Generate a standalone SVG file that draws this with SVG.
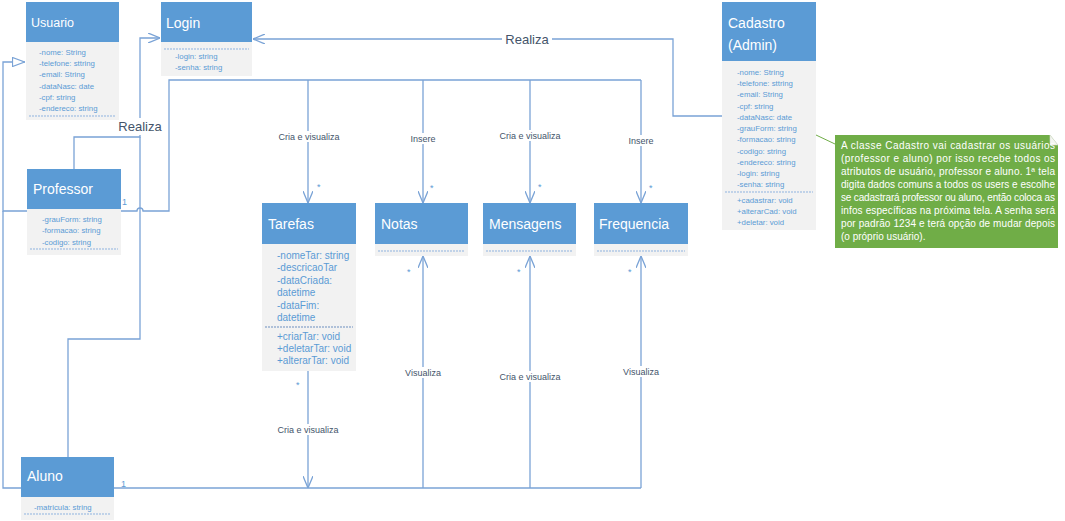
<svg xmlns="http://www.w3.org/2000/svg" width="1065" height="521" viewBox="0 0 1065 521">
<style>
.hdr{fill:#5b9bd5}
.body{fill:#f2f2f2}
.title{font-family:"Liberation Sans",Arial,sans-serif;font-size:14px;fill:#ffffff}
.attr{font-family:"Liberation Sans",Arial,sans-serif;font-size:7.8px;fill:#5b9bd5}
.attr10{font-family:"Liberation Sans",Arial,sans-serif;font-size:10px;fill:#5b9bd5}
.sep{stroke:#8fb3df;stroke-width:1;stroke-dasharray:2,1;fill:none}
.conn{fill:none;stroke:#7aa3d6;stroke-width:1.3}
.lbl{font-family:"Liberation Sans",Arial,sans-serif;font-size:9px;fill:#44546a;text-anchor:middle}
.big{font-size:13px}
.mult{font-family:"Liberation Sans",Arial,sans-serif;font-size:9px;fill:#5b9bd5}
.bg{fill:#ffffff}
.note{font-family:"Liberation Sans",Arial,sans-serif;font-size:10px;fill:#ffffff}
</style>
<defs>
<marker id="open" viewBox="0 0 12 10" refX="12" refY="5" markerWidth="12" markerHeight="10" markerUnits="userSpaceOnUse" orient="auto">
<path d="M0,0 L12,5 L0,10" fill="none" stroke="#7aa3d6" stroke-width="1.3"/>
</marker>
<marker id="tri" viewBox="0 0 13 10" refX="13" refY="5" markerWidth="13" markerHeight="10" markerUnits="userSpaceOnUse" orient="auto">
<path d="M0.5,0.5 L12.5,5 L0.5,9.5 Z" fill="#ffffff" stroke="#7aa3d6" stroke-width="1.2"/>
</marker>
</defs>

<g id="connectors">
<path class="conn" d="M723,116 H673 V39 H253" marker-end="url(#open)"/>
<path class="conn" d="M74,169 V137 H140 V38 H160" marker-end="url(#open)"/>
<path class="conn" d="M68,457 V339 H140 V137"/>
<path class="conn" d="M27,211 H3 V62 H25" marker-end="url(#tri)"/>
<path class="conn" d="M21,488 H3 V211"/>
<path class="conn" d="M120,211 H137 A3,3 0 0 1 143,211 H169 V80 H641"/>
<path class="conn" d="M308,80 V203" marker-end="url(#open)"/>
<path class="conn" d="M423,80 V203" marker-end="url(#open)"/>
<path class="conn" d="M530,80 V203" marker-end="url(#open)"/>
<path class="conn" d="M641,80 V203" marker-end="url(#open)"/>
<path class="conn" d="M114,488 H641"/>
<path class="conn" d="M308,371 V488" marker-end="url(#open)"/>
<path class="conn" d="M423,488 V256" marker-end="url(#open)"/>
<path class="conn" d="M530,488 V256" marker-end="url(#open)"/>
<path class="conn" d="M641,488 V256" marker-end="url(#open)"/>
<rect class="bg" x="502" y="31" width="50" height="16"/>
<text class="lbl big" x="527" y="44">Realiza</text>
<rect class="bg" x="116" y="118" width="48" height="17"/>
<text class="lbl big" x="140" y="131">Realiza</text>
<rect class="bg" x="277" y="131" width="64" height="11"/>
<text class="lbl" x="309" y="140">Cria e visualiza</text>
<rect class="bg" x="408" y="133" width="30" height="11"/>
<text class="lbl" x="423" y="142">Insere</text>
<rect class="bg" x="498" y="130" width="64" height="11"/>
<text class="lbl" x="530" y="139">Cria e visualiza</text>
<rect class="bg" x="626" y="135" width="30" height="11"/>
<text class="lbl" x="641" y="144">Insere</text>
<rect class="bg" x="276" y="424" width="64" height="11"/>
<text class="lbl" x="308" y="433">Cria e visualiza</text>
<rect class="bg" x="403" y="367" width="40" height="11"/>
<text class="lbl" x="423" y="376">Visualiza</text>
<rect class="bg" x="498" y="371" width="64" height="11"/>
<text class="lbl" x="530" y="380">Cria e visualiza</text>
<rect class="bg" x="621" y="366" width="40" height="11"/>
<text class="lbl" x="641" y="375">Visualiza</text>
<text class="mult" x="122" y="205">1</text>
<text class="mult" x="121" y="487">1</text>
<text class="mult" x="317" y="190">*</text>
<text class="mult" x="430" y="191">*</text>
<text class="mult" x="538" y="190">*</text>
<text class="mult" x="649" y="191">*</text>
<text class="mult" x="296" y="388">*</text>
<text class="mult" x="407" y="275">*</text>
<text class="mult" x="517" y="275">*</text>
<text class="mult" x="628" y="275">*</text>
</g>

<g id="usuario">
<rect class="hdr" x="26" y="2" width="93" height="40"/>
<rect class="body" x="26" y="42" width="93" height="78"/>
<text class="title" x="31" y="27" style="font-size:12.5px">Usuario</text>
<text class="attr" x="39" y="54.5">-nome: String</text>
<text class="attr" x="39" y="65.5">-telefone: sttring</text>
<text class="attr" x="39" y="76.5">-email: String</text>
<text class="attr" x="39" y="88.5">-dataNasc: date</text>
<text class="attr" x="39" y="99.5">-cpf: string</text>
<text class="attr" x="39" y="110.5">-endereco: string</text>
<line class="sep" x1="29" y1="116" x2="116" y2="116"/>
</g>

<g id="login">
<rect class="hdr" x="161" y="2" width="91" height="40"/>
<rect class="body" x="161" y="42" width="91" height="34"/>
<text class="title" x="166" y="27.5">Login</text>
<line class="sep" x1="164" y1="49" x2="249" y2="49"/>
<text class="attr" x="175" y="58.5">-login: string</text>
<text class="attr" x="175" y="69.5">-senha: string</text>
</g>

<g id="cadastro">
<rect class="hdr" x="722" y="2" width="94" height="59"/>
<rect class="body" x="722" y="61" width="94" height="169"/>
<text class="title" x="728" y="28">Cadastro</text>
<text class="title" x="728" y="50">(Admin)</text>
<text class="attr" x="737" y="74.5">-nome: String</text>
<text class="attr" x="737" y="85.5">-telefone: sttring</text>
<text class="attr" x="737" y="96.5">-email: String</text>
<text class="attr" x="737" y="108.5">-cpf: string</text>
<text class="attr" x="737" y="119.5">-dataNasc: date</text>
<text class="attr" x="737" y="130.5">-grauForm: string</text>
<text class="attr" x="737" y="141.5">-formacao: string</text>
<text class="attr" x="737" y="153.5">-codigo: string</text>
<text class="attr" x="737" y="164.5">-endereco: string</text>
<text class="attr" x="737" y="175.5">-login: string</text>
<text class="attr" x="737" y="186.5">-senha: string</text>
<line class="sep" x1="725" y1="192" x2="813" y2="192"/>
<text class="attr" x="737" y="202.5">+cadastrar: void</text>
<text class="attr" x="737" y="213.5">+alterarCad: void</text>
<text class="attr" x="737" y="224.5">+deletar: void</text>
</g>

<g id="professor">
<rect class="hdr" x="27" y="169" width="94" height="40"/>
<rect class="body" x="27" y="209" width="94" height="46"/>
<text class="title" x="33" y="194">Professor</text>
<text class="attr" x="42" y="221.5">-grauForm: string</text>
<text class="attr" x="42" y="232.5">-formacao: string</text>
<text class="attr" x="42" y="244.5">-codigo: string</text>
<line class="sep" x1="30" y1="249" x2="118" y2="249"/>
</g>

<g id="aluno">
<rect class="hdr" x="21" y="457" width="93" height="40"/>
<rect class="body" x="21" y="497" width="93" height="23"/>
<text class="title" x="27" y="481">Aluno</text>
<text class="attr" x="34" y="509.5">-matricula: string</text>
<line class="sep" x1="24" y1="514" x2="111" y2="514"/>
</g>

<g id="tarefas">
<rect class="hdr" x="262" y="203" width="94" height="41"/>
<rect class="body" x="262" y="244" width="94" height="127"/>
<text class="title" x="268" y="229">Tarefas</text>
<text class="attr10" x="277" y="259">-nomeTar: string</text>
<text class="attr10" x="277" y="271">-descricaoTar</text>
<text class="attr10" x="277" y="284">-dataCriada:</text>
<text class="attr10" x="277" y="296">datetime</text>
<text class="attr10" x="277" y="309">-dataFim:</text>
<text class="attr10" x="277" y="321">datetime</text>
<line class="sep" x1="265" y1="327" x2="353" y2="327" style="stroke:#6d8fbf"/>
<text class="attr10" x="277" y="340">+criarTar: void</text>
<text class="attr10" x="277" y="352">+deletarTar: void</text>
<text class="attr10" x="277" y="364">+alterarTar: void</text>
</g>

<g id="notas">
<rect class="hdr" x="375" y="203" width="93" height="41"/>
<rect class="body" x="375" y="244" width="93" height="12"/>
<text class="title" x="381" y="229">Notas</text>
<line class="sep" x1="378" y1="251" x2="465" y2="251"/>
</g>

<g id="mensagens">
<rect class="hdr" x="483" y="203" width="93" height="41"/>
<rect class="body" x="483" y="244" width="93" height="12"/>
<text class="title" x="489" y="229">Mensagens</text>
<line class="sep" x1="486" y1="251" x2="573" y2="251"/>
</g>

<g id="frequencia">
<rect class="hdr" x="594" y="203" width="94" height="41"/>
<rect class="body" x="594" y="244" width="94" height="12"/>
<text class="title" x="599" y="229">Frequencia</text>
<line class="sep" x1="597" y1="251" x2="685" y2="251"/>
</g>

<g id="note">
<line x1="816" y1="135" x2="835" y2="144" stroke="#70ad47" stroke-width="1"/>
<polygon points="835,135 1050,135 1058,145 1058,248 835,248" fill="#70ad47"/>
<polygon points="1050,135 1050,145 1058,145" fill="#f4f6f2" stroke="#d6dccf" stroke-width="0.6"/>
<text class="note" x="841" y="149" textLength="214" lengthAdjust="spacing">A classe Cadastro vai cadastrar os usuários</text>
<text class="note" x="841" y="162" textLength="214" lengthAdjust="spacing">(professor e aluno) por isso recebe todos os</text>
<text class="note" x="841" y="175" textLength="214" lengthAdjust="spacing">atributos de usuário, professor e aluno. 1ª tela</text>
<text class="note" x="841" y="188" textLength="214" lengthAdjust="spacing">digita dados comuns a todos os users e escolhe</text>
<text class="note" x="841" y="201" textLength="214" lengthAdjust="spacing">se cadastrará professor ou aluno, então coloca as</text>
<text class="note" x="841" y="214" textLength="214" lengthAdjust="spacing">infos específicas na próxima tela. A senha será</text>
<text class="note" x="841" y="227" textLength="214" lengthAdjust="spacing">por padrão 1234 e terá opção de mudar depois</text>
<text class="note" x="841" y="240">(o próprio usuário).</text>
</g>
</svg>
